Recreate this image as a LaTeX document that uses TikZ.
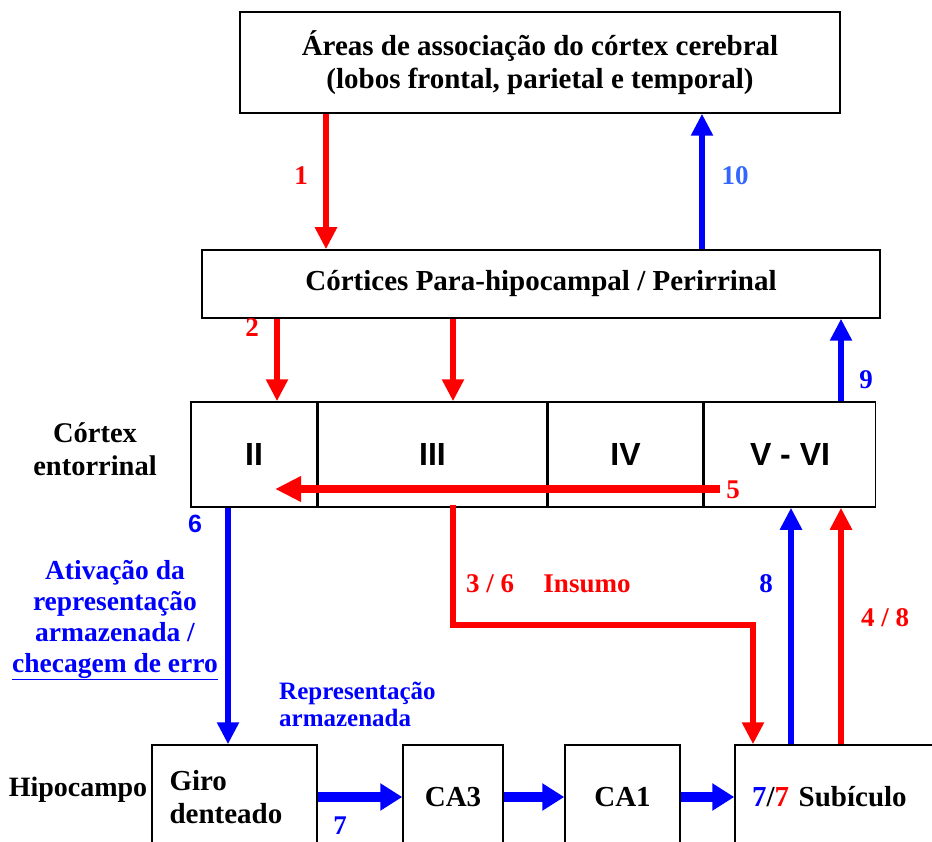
\documentclass[tikz,border=0pt]{standalone}
\usepackage{fontspec}
\setmainfont{Liberation Serif}
\setsansfont{Liberation Sans}
\usetikzlibrary{arrows.meta,positioning}
\definecolor{memred}{RGB}{255,0,0}
\definecolor{memblue}{RGB}{0,0,255}
\definecolor{paleblue}{RGB}{51,102,255}

\begin{document}
\begin{tikzpicture}[x=1pt,y=-1pt,
      box/.style={draw, line width=1.5pt, inner sep=0pt, align=center, font={\fontsize{29}{33}\selectfont\bfseries}},
      layer/.style={box, minimum height=105, font={\fontsize{32}{32}\selectfont\sffamily\bfseries}},
      hbox/.style={box, minimum height=104},
      redarrow/.style={memred, line width=6pt, -{Triangle[width=21pt,length=22pt]}},
      bluearrow/.style={memblue, line width=6pt, -{Triangle[width=21pt,length=22pt]}},
      fatarrow/.style={memblue, line width=10pt, -{Triangle[width=26pt,length=22pt]}},
      numlabel/.style={font={\fontsize{27}{30}\selectfont\bfseries}},
      sidelabel/.style={align=center, font={\fontsize{28.5}{33}\selectfont\bfseries}}]

    \useasboundingbox (0,0) rectangle (932,842);
    \clip (0,0) rectangle (932,842);

    %draw cortex boxes
    \node[box, minimum width=600, minimum height=101] (assoc) at (540,62.5)
      {Áreas de associação do córtex cerebral\\(lobos frontal, parietal e temporal)};
    \node[box, minimum width=678, minimum height=68] (para) at (541,284)
      {Córtices Para-hipocampal / Perirrinal};

    %draw entorhinal layers
    \node[layer, minimum width=126] (ecII) at (254,454.5) {II};
    \node[layer, minimum width=228, right=0pt of ecII] (ecIII) {III};
    \node[layer, minimum width=155, right=0pt of ecIII] (ecIV) {IV};
    \node[layer, minimum width=171, right=0pt of ecIV] (ecV) {V - VI};
    \node[sidelabel] (ectitle) at (95,449) {Córtex\\entorrinal};

    %draw hippocampus boxes
    \node[hbox, minimum width=165, text width=130, align=left] (giro) at (234.5,797) {Giro\\denteado};
    \node[hbox, minimum width=100] (ca3) at (453,797) {CA3};
    \node[hbox, minimum width=115] (ca1) at (622.5,797) {CA1};
    \node[hbox, minimum width=240, text width=206, align=left] (sub) at (855,797)
      {\textcolor{memblue}{7}/\textcolor{memred}{7} Subículo};
    \node[sidelabel, font={\fontsize{28}{33}\selectfont\bfseries}] (hipo) at (78,790) {Hipocampo};

    %x positions of the vertical connectors
    \coordinate (xone) at (326,0);
    \coordinate (xten) at (702,0);
    \coordinate (xtwo) at (277,0);
    \coordinate (xthree) at (453,0);
    \coordinate (xnine) at (841,0);
    \coordinate (xsix) at (228,0);
    \coordinate (xeight) at (791,0);
    \coordinate (bend) at (753,625);
    \coordinate (fivestart) at (720,489);
    \coordinate (fiveend) at (275,489);

    %draw arrows 1, 2, 9, 10
    \draw[redarrow] (assoc.south -| xone) -- (para.north -| xone);
    \draw[bluearrow] (para.north -| xten) -- (assoc.south -| xten);
    \draw[redarrow] (para.south -| xtwo) -- (ecII.north -| xtwo);
    \draw[redarrow] (para.south -| xthree) -- (ecIII.north -| xthree);
    \draw[bluearrow] (ecV.north -| xnine) -- (para.south -| xnine);
    \draw[redarrow, line width=8pt, -{Triangle[width=24pt,length=26pt]}] (fivestart) -- (fiveend);

    %draw arrows into and out of the hippocampus
    \draw[bluearrow] (ecII.south -| xsix) -- (giro.north -| xsix);
    \draw[redarrow, line cap=rect] (ecIII.south -| xthree) |- (bend) -- (sub.north -| bend);
    \draw[bluearrow] (sub.north -| xeight) -- (ecV.south -| xeight);
    \draw[redarrow] (sub.north -| xnine) -- (ecV.south -| xnine);
    \draw[fatarrow] (giro.east) -- (ca3.west);
    \draw[fatarrow] (ca3.east) -- (ca1.west);
    \draw[fatarrow] (ca1.east) -- (sub.west);

    %draw connector labels
    \node[numlabel, memred] (lone) at (301,176) {1};
    \node[numlabel, paleblue] (lten) at (735,176) {10};
    \node[numlabel, memred] (ltwo) at (252,328) {2};
    \node[numlabel, memblue] (lnine) at (866,380) {9};
    \node[numlabel, memred] (lfive) at (733,490) {5};
    \node[numlabel, memblue, font={\fontsize{25}{30}\selectfont\sffamily\bfseries}] (lsix) at (195,524) {6};
    \node[numlabel, memred] (lthree) at (490,584) {3 / 6};
    \node[numlabel, memred] (linsumo) at (587,584) {Insumo};
    \node[numlabel, memblue] (leight) at (766,584) {8};
    \node[numlabel, memred] (lfour) at (885,618) {4 / 8};
    \node[numlabel, memblue] (lseven) at (340,826) {7};

    \node[sidelabel, memblue, font={\fontsize{27.5}{31}\selectfont\bfseries}] (ativ) at (115,620)
      {Ativação da\\representação\\armazenada /\\\underline{checagem de erro}};
    \node[memblue, align=left, anchor=west, inner sep=0pt, font={\fontsize{25}{27}\selectfont\bfseries}] (repr) at (279,704.5)
      {Representação\\armazenada};

  \end{tikzpicture}
\end{document}
